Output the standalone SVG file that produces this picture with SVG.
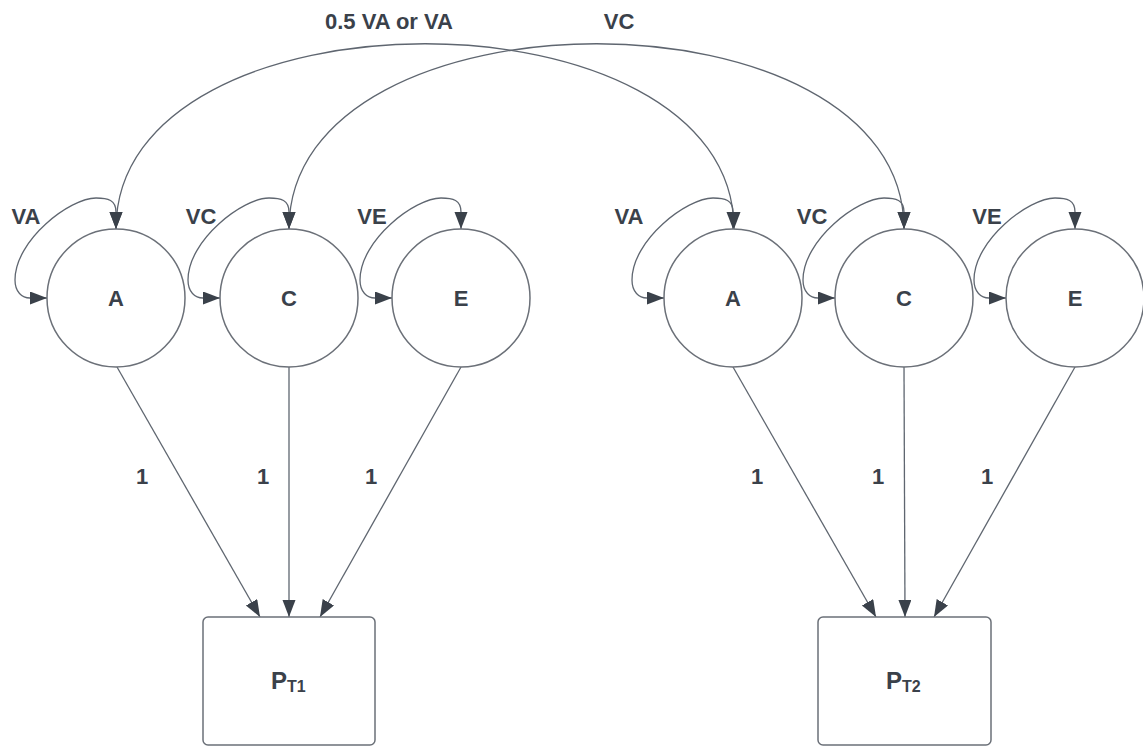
<svg xmlns="http://www.w3.org/2000/svg" width="1143" height="746" viewBox="0 0 1143 746">
<defs>
<marker id="ah" markerUnits="userSpaceOnUse" markerWidth="18" markerHeight="14" refX="17" refY="6.5" orient="auto-start-reverse" viewBox="0 0 18 14">
<path d="M0,0 L17,6.5 L0,13 z" fill="#3a414a"/>
</marker>
</defs>
<style>
.node{fill:#ffffff;stroke:#6b7078;stroke-width:1.5}
.edge{fill:none;stroke:#5f6670;stroke-width:1.3;marker-end:url(#ah)}
.loop{fill:none;stroke:#5f6670;stroke-width:1.3;marker-start:url(#ah);marker-end:url(#ah)}
.t{font-family:"Liberation Sans",Arial,sans-serif;font-weight:bold;fill:#3a414a;font-size:22px;text-anchor:middle;dominant-baseline:central}
</style>
<rect width="1143" height="746" fill="#ffffff"/>
<g id="connectors">
<path class="loop" d="M116,229 C116,-18 734,-18 734,229"/>
<path class="loop" d="M289,229 C289,-18 904,-18 904,229"/>
<path class="loop" d="M47,298 L30,298 C22,298 15,292 15,280 C15,240 70,198 96,198 C108,198 116,200 116,212 L116,229"/>
<path class="loop" d="M220,298 L203,298 C195,298 188,292 188,280 C188,240 243,198 269,198 C281,198 289,200 289,212 L289,229"/>
<path class="loop" d="M392,298 L375,298 C367,298 360,292 360,280 C360,240 415,198 441,198 C453,198 461,200 461,212 L461,229"/>
<path class="loop" d="M664,298 L647,298 C639,298 632,292 632,280 C632,240 687,198 713,198 C725,198 733,200 733,212 L733,229"/>
<path class="loop" d="M835,298 L818,298 C810,298 803,292 803,280 C803,240 858,198 884,198 C896,198 904,200 904,212 L904,229"/>
<path class="loop" d="M1006,298 L989,298 C981,298 974,292 974,280 C974,240 1029,198 1055,198 C1067,198 1075,200 1075,212 L1075,229"/>
<path class="edge" d="M117,367 L260,617"/>
<path class="edge" d="M289,367 L289,617"/>
<path class="edge" d="M461,367 L320,617"/>
<path class="edge" d="M733,367 L876,617"/>
<path class="edge" d="M904,367 L905,617"/>
<path class="edge" d="M1075,367 L934,617"/>
<text class="t" x="389" y="21">0.5 VA or VA</text>
<text class="t" x="619" y="21">VC</text>
<text class="t" x="26" y="216">VA</text>
<text class="t" x="201" y="216">VC</text>
<text class="t" x="372" y="216">VE</text>
<text class="t" x="629" y="216">VA</text>
<text class="t" x="812" y="216">VC</text>
<text class="t" x="987" y="216">VE</text>
<text class="t" x="142" y="476">1</text>
<text class="t" x="263" y="476">1</text>
<text class="t" x="371" y="476">1</text>
<text class="t" x="757" y="476">1</text>
<text class="t" x="878" y="476">1</text>
<text class="t" x="987" y="476">1</text>
</g>
<g id="A1"><circle class="node" cx="116" cy="298" r="69"/><text class="t" x="116" y="298">A</text></g>
<g id="C1"><circle class="node" cx="289" cy="298" r="69"/><text class="t" x="289" y="298">C</text></g>
<g id="E1"><circle class="node" cx="461" cy="298" r="69"/><text class="t" x="461" y="298">E</text></g>
<g id="A2"><circle class="node" cx="733" cy="298" r="69"/><text class="t" x="733" y="298">A</text></g>
<g id="C2"><circle class="node" cx="904" cy="298" r="69"/><text class="t" x="904" y="298">C</text></g>
<g id="E2"><circle class="node" cx="1075" cy="298" r="69"/><text class="t" x="1075" y="298">E</text></g>
<g id="PT1"><rect class="node" x="203" y="617" width="172" height="128" rx="5"/>
<text x="271" y="689" font-family="'Liberation Sans',Arial,sans-serif" font-weight="bold" fill="#3a414a" font-size="24">P<tspan font-size="16" dy="3">T1</tspan></text></g>
<g id="PT2"><rect class="node" x="818" y="617" width="173" height="128" rx="5"/>
<text x="886" y="689" font-family="'Liberation Sans',Arial,sans-serif" font-weight="bold" fill="#3a414a" font-size="24">P<tspan font-size="16" dy="3">T2</tspan></text></g>
</svg>
